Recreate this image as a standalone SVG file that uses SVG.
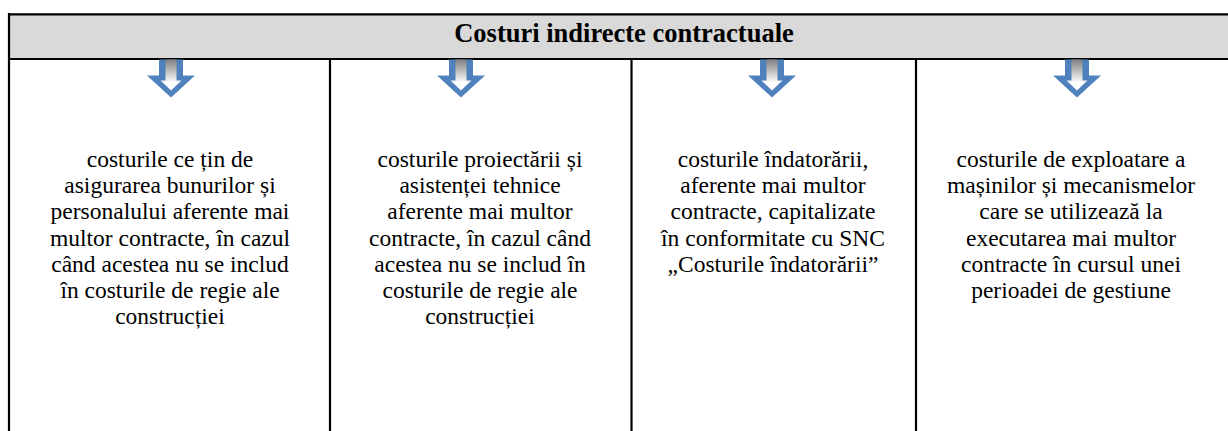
<svg xmlns="http://www.w3.org/2000/svg" xmlns:xlink="http://www.w3.org/1999/xlink" width="1228" height="431" viewBox="0 0 1228 431">
<style>
.body{font-family:"Liberation Serif","Times New Roman",serif;font-size:23.5px;fill:#000;text-anchor:middle}
.head{font-family:"Liberation Serif","Times New Roman",serif;font-size:26.5px;font-weight:bold;fill:#000;text-anchor:middle}
.ln{stroke:#000;stroke-width:2.2;fill:none}
</style>
<defs>
<linearGradient id="ag" x1="0" y1="0" x2="0" y2="1">
<stop offset="0" stop-color="#7f7f7f"/>
<stop offset="0.75" stop-color="#ffffff"/>
<stop offset="1" stop-color="#ffffff"/>
</linearGradient>
<g id="arrow">
<polygon points="-12,0 12,0 12,16 24,16 0,38 -24,16 -12,16" fill="#4f81bd"/>
<polygon points="-5.5,0 5.5,0 5.5,21 10.5,21 0,31 -10.5,21 -5.5,21" fill="url(#ag)"/>
</g>
</defs>
<rect x="0" y="0" width="1228" height="431" fill="#fff"/>
<g id="header">
<rect x="9" y="14" width="1220" height="45" fill="#d9d9d9"/>
<line class="ln" x1="8" y1="14.3" x2="1228" y2="14.3"/>
<line class="ln" x1="8" y1="59" x2="1228" y2="59"/>
<text class="head" x="624" y="41.5">Costuri indirecte contractuale</text>
</g>
<g id="grid">
<line class="ln" x1="9" y1="13" x2="9" y2="431"/>
<line class="ln" x1="330" y1="59" x2="330" y2="431"/>
<line class="ln" x1="631.5" y1="59" x2="631.5" y2="431"/>
<line class="ln" x1="916" y1="59" x2="916" y2="431"/>
</g>
<g id="connectors">
<use xlink:href="#arrow" transform="translate(171,59.5)"/>
<use xlink:href="#arrow" transform="translate(461,59.5)"/>
<use xlink:href="#arrow" transform="translate(772,59.5)"/>
<use xlink:href="#arrow" transform="translate(1077,59.5)"/>
</g>
<g id="node1">
<text class="body" x="170" y="167">costurile ce țin de</text>
<text class="body" x="170" y="193.2">asigurarea bunurilor și</text>
<text class="body" x="170" y="219.4">personalului aferente mai</text>
<text class="body" x="170" y="245.6">multor contracte, în cazul</text>
<text class="body" x="170" y="271.8">când acestea nu se includ</text>
<text class="body" x="170" y="298">în costurile de regie ale</text>
<text class="body" x="170" y="324.2">construcției</text>
</g>
<g id="node2">
<text class="body" x="480" y="167">costurile proiectării și</text>
<text class="body" x="480" y="193.2">asistenței tehnice</text>
<text class="body" x="480" y="219.4">aferente mai multor</text>
<text class="body" x="480" y="245.6">contracte, în cazul când</text>
<text class="body" x="480" y="271.8">acestea nu se includ în</text>
<text class="body" x="480" y="298">costurile de regie ale</text>
<text class="body" x="480" y="324.2">construcției</text>
</g>
<g id="node3">
<text class="body" x="773" y="167">costurile îndatorării,</text>
<text class="body" x="773" y="193.2">aferente mai multor</text>
<text class="body" x="773" y="219.4">contracte, capitalizate</text>
<text class="body" x="773" y="245.6">în conformitate cu SNC</text>
<text class="body" x="773" y="271.8">„Costurile îndatorării”</text>
</g>
<g id="node4">
<text class="body" x="1071" y="167">costurile de exploatare a</text>
<text class="body" x="1071" y="193.2">mașinilor și mecanismelor</text>
<text class="body" x="1071" y="219.4">care se utilizează la</text>
<text class="body" x="1071" y="245.6">executarea mai multor</text>
<text class="body" x="1071" y="271.8">contracte în cursul unei</text>
<text class="body" x="1071" y="298">perioadei de gestiune</text>
</g>
</svg>
